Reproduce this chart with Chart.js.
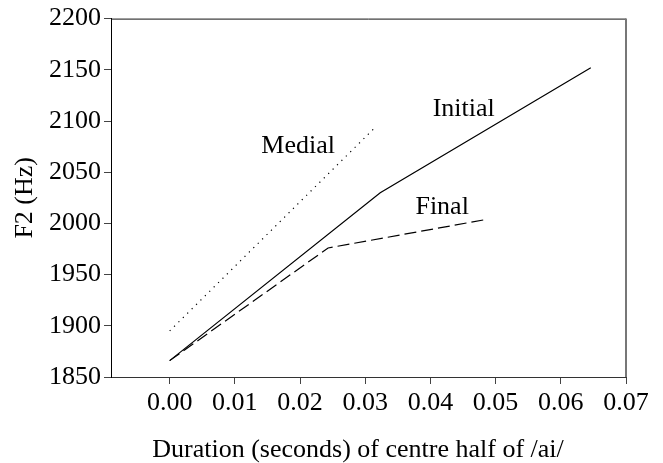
<!DOCTYPE html>
<html>
<head>
<meta charset="utf-8">
<script src="https://cdn.jsdelivr.net/npm/chart.js@4.4.1/dist/chart.umd.min.js"></script>
<style>
  html, body { margin: 0; padding: 0; background: #fff; }
  #wrap { width: 663px; height: 463px; position: relative; }
</style>
</head>
<body>
<div id="wrap"><canvas id="c" width="663" height="463"></canvas></div>
<script>
// F2 against duration of the centre half of /ai/, by word position
const initialX = [0.000, 0.0323, 0.0646];
const initialY = [1866, 2030, 2152];
const finalX = [0.000, 0.0243, 0.0487];
const finalY = [1866, 1976, 2004];
const medialX = [0.000, 0.0314];
const medialY = [1895, 2093];

// Tick values for the two axes
const xTicks = [0.00, 0.01, 0.02, 0.03, 0.04, 0.05, 0.06, 0.07];
const yTicks = [1850, 1900, 1950, 2000, 2050, 2100, 2150, 2200];

// In-plot series names and where they sit (data units)
const labelText = ['Medial', 'Initial', 'Final'];
const labelX = [0.0197, 0.0451, 0.0418];
const labelY = [2075, 2112, 2016];

const xTitle = 'Duration (seconds) of centre half of /ai/';

const serif = "'Liberation Serif', 'Times New Roman', serif";

function pts(xs, ys) { return xs.map((x, i) => ({ x: x, y: ys[i] })); }

const seriesLabels = {
  id: 'seriesLabels',
  afterDatasetsDraw(chart) {
    const { ctx, scales: { x, y } } = chart;
    ctx.save();
    ctx.fillStyle = '#000';
    ctx.font = '26px ' + serif;
    ctx.textAlign = 'center';
    ctx.textBaseline = 'middle';
    labelText.forEach((t, i) => {
      ctx.fillText(t, x.getPixelForValue(labelX[i]), y.getPixelForValue(labelY[i]));
    });
    ctx.restore();
  }
};

// Box edges on the top and right, plus the x-axis caption
const frame = {
  id: 'frame',
  afterDraw(chart) {
    const { ctx, chartArea: a } = chart;
    ctx.save();
    ctx.strokeStyle = '#111';
    ctx.lineWidth = 1;
    ctx.beginPath();
    ctx.moveTo(a.left, a.top + 0.5);
    ctx.lineTo(a.right, a.top + 0.5);
    ctx.stroke();
    ctx.strokeStyle = '#777';
    ctx.lineWidth = 2;
    ctx.beginPath();
    ctx.moveTo(a.right, a.top);
    ctx.lineTo(a.right, a.bottom);
    ctx.stroke();

    ctx.fillStyle = '#000';
    ctx.font = '26px ' + serif;
    ctx.textAlign = 'center';
    ctx.textBaseline = 'alphabetic';
    ctx.fillText(xTitle, chart.width * 0.54, chart.height - 6);
    ctx.restore();
  }
};

new Chart(document.getElementById('c'), {
  type: 'line',
  data: {
    datasets: [
      { label: 'Initial', data: pts(initialX, initialY), borderColor: '#000', borderWidth: 1.2, pointRadius: 0, fill: false, tension: 0 },
      { label: 'Final', data: pts(finalX, finalY), borderColor: '#000', borderWidth: 1.2, borderDash: [12, 5], pointRadius: 0, fill: false, tension: 0 },
      { label: 'Medial', data: pts(medialX, medialY), borderColor: '#000', borderWidth: 1.2, borderDash: [1.2, 5], pointRadius: 0, fill: false, tension: 0 }
    ]
  },
  options: {
    responsive: false,
    animation: false,
    events: [],
    layout: { padding: { top: 17, right: 37, left: 0, bottom: 0 } },
    plugins: { legend: { display: false }, tooltip: { enabled: false } },
    scales: {
      x: {
        type: 'linear',
        min: -0.009,
        max: 0.07,
        afterBuildTicks(s) { s.ticks = xTicks.map(v => ({ value: v })); },
        afterFit(s) { s.height = 86; },
        ticks: {
          color: '#000',
          font: { family: serif, size: 26 },
          padding: 4,
          maxRotation: 0,
          autoSkip: false,
          callback: v => v.toFixed(2)
        },
        grid: { drawOnChartArea: false, drawTicks: true, tickLength: 7, color: '#444' },
        border: { display: true, color: '#333', width: 1 },
        title: { display: false }
      },
      y: {
        type: 'linear',
        min: 1850,
        max: 2200,
        afterBuildTicks(s) { s.ticks = yTicks.map(v => ({ value: v })); },
        afterFit(s) { s.width = 111; },
        ticks: {
          color: '#000',
          font: { family: serif, size: 26 },
          padding: 3,
          autoSkip: false,
          callback: v => String(v)
        },
        grid: { drawOnChartArea: false, drawTicks: true, tickLength: 7, color: '#444' },
        border: { display: true, color: '#000', width: 1 },
        title: {
          display: true,
          text: 'F2 (Hz)',
          color: '#000',
          font: { family: serif, size: 26, lineHeight: 1.1 },
          padding: { top: 11, bottom: 0 }
        }
      }
    }
  },
  plugins: [seriesLabels, frame]
});
</script>
</body>
</html>
